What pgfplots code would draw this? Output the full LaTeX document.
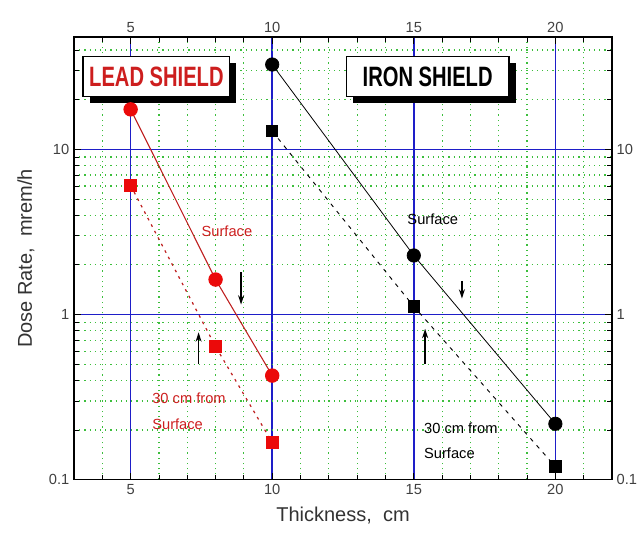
\documentclass[border=0pt]{standalone}
\usepackage{pgfplots}
\pgfplotsset{compat=1.18}
\usepackage{fontspec}
\setmainfont{Liberation Sans}
\newfontfamily\condfont[FakeStretch=0.72]{Liberation Sans}
\usetikzlibrary{shadows,arrows.meta}
\definecolor{gridblue}{RGB}{30,30,200}
\definecolor{gridgreen}{RGB}{60,190,60}
\definecolor{leadred}{RGB}{235,10,10}
\definecolor{leadline}{RGB}{190,30,30}
\definecolor{txtred}{RGB}{205,30,30}
\begin{document}
\begin{tikzpicture}[x=1pt,y=1pt]
\begin{axis}[
  name=ax,
  scale only axis,
  width=403.5pt, height=332pt,
  xmin=3, xmax=22,
  ymode=log, ymin=0.1, ymax=48,
  xtick={5,10,15,20},
  minor xtick={3,4,6,7,8,9,11,12,13,14,16,17,18,19,21,22},
  ytick={0.1,1,10},
  yticklabels={0.1,1,10},
  minor ytick={0.2,0.3,0.4,0.5,0.6,0.7,0.8,0.9,2,3,4,5,6,7,8,9,20,30,40},
  tick align=inside,
  major tick length=5pt,
  minor tick length=3.5pt,
  tick style={black, line width=0.6pt},
  grid=both,
  major grid style={gridblue, line width=1.2pt},
  minor grid style={gridgreen, line width=0.9pt, dash pattern=on 0.9pt off 3pt},
  axis line style={black, line width=1.1pt},
  /pgf/number format/assume math mode=true,
  ticklabel style={font=\fontsize{11}{13}\selectfont, text=black!75},
  xlabel={Thickness,\ \ cm},
  ylabel={Dose Rate,\ \ mrem/h},
  xlabel style={font=\fontsize{15}{17}\selectfont, text=black!80, yshift=-2pt},
  ylabel style={font=\fontsize{15}{17}\selectfont, text=black!80, yshift=4pt},
]
% Lead, surface
\addplot[leadline, line width=0.8pt, mark=*, mark size=5pt,
  mark options={solid, fill=leadred, draw=leadred}]
  coordinates {(5,17.5) (8,1.63) (10,0.427)};
% Lead, 30 cm
\addplot[leadline, line width=0.9pt, dash pattern=on 2pt off 3.5pt, mark=square*, mark size=4.3pt,
  mark options={solid, fill=leadred, draw=leadred}]
  coordinates {(5,6.05) (8,0.64) (10,0.168)};
% Iron, surface
\addplot[black, line width=0.6pt, mark=*, mark size=5pt,
  mark options={solid, fill=black}]
  coordinates {(10,32.7) (15,2.28) (20,0.218)};
% Iron, 30 cm
\addplot[black, line width=0.7pt, dash pattern=on 3pt off 4pt, mark=square*, mark size=4.3pt,
  mark options={solid, fill=black}]
  coordinates {(10,12.9) (15,1.12) (20,0.12)};

% boxes
\node[draw=black, line width=1pt, fill=white, minimum width=110pt, minimum height=30pt,
  general shadow={fill=black, shadow xshift=5pt, shadow yshift=-5pt},
  font=\condfont\bfseries\fontsize{21}{23}\selectfont, text=txtred]
  at (axis cs:5.91,27.7) {LEAD SHIELD};
\node[draw=black, line width=1pt, fill=white, minimum width=122pt, minimum height=30pt,
  general shadow={fill=black, shadow xshift=5pt, shadow yshift=-5pt},
  font=\condfont\bfseries\fontsize{21}{23}\selectfont, text=black]
  at (axis cs:15.49,27.7) {IRON SHIELD};

% labels
\node[text=txtred, font=\fontsize{11}{13}\selectfont] at (axis cs:8.4,3.18) {Surface};
\node[text=txtred, font=\fontsize{11}{13}\selectfont, anchor=west] at (axis cs:5.6,0.31) {30 cm from};
\node[text=txtred, font=\fontsize{11}{13}\selectfont, anchor=west] at (axis cs:5.6,0.218) {Surface};
\node[text=black, font=\fontsize{11}{13}\selectfont] at (axis cs:15.67,3.76) {Surface};
\node[text=black, font=\fontsize{11}{13}\selectfont, anchor=west] at (axis cs:15.2,0.204) {30 cm from};
\node[text=black, font=\fontsize{11}{13}\selectfont, anchor=west] at (axis cs:15.2,0.144) {Surface};

% arrows
\draw[black, line width=1pt, -{Stealth[length=7pt,width=4.5pt]}] (axis cs:8.9,1.8) -- (axis cs:8.9,1.15);
\draw[black, line width=1pt, -{Stealth[length=7pt,width=4.5pt]}] (axis cs:7.4,0.5) -- (axis cs:7.4,0.78);
\draw[black, line width=1pt, -{Stealth[length=7pt,width=4.5pt]}] (axis cs:16.7,1.6) -- (axis cs:16.7,1.25);
\draw[black, line width=1pt, -{Stealth[length=7pt,width=4.5pt]}] (axis cs:15.4,0.5) -- (axis cs:15.4,0.82);
\end{axis}
\begin{axis}[
  scale only axis,
  width=403.5pt, height=332pt,
  xmin=3, xmax=22,
  ymode=log, ymin=0.1, ymax=48,
  axis x line*=top, axis y line*=right,
  axis line style={draw=none},
  grid=none,
  xtick={5,10,15,20},
  ytick={0.1,1,10},
  yticklabels={0.1,1,10},
  minor xtick={}, minor ytick={},
  major tick length=0pt,
  tick style={draw=none},
  /pgf/number format/assume math mode=true,
  ticklabel style={font=\fontsize{11}{13}\selectfont, text=black!75},
  yticklabel style={anchor=west, xshift=0pt},
]
\end{axis}
\path (ax.south west) ++(-74*0.75pt,-64*0.75pt) coordinate (bl);
\path (ax.north east) ++(26*0.75pt,37*0.75pt) coordinate (tr);
\pgfresetboundingbox
\useasboundingbox (bl) rectangle (tr);
\end{tikzpicture}
\end{document}
